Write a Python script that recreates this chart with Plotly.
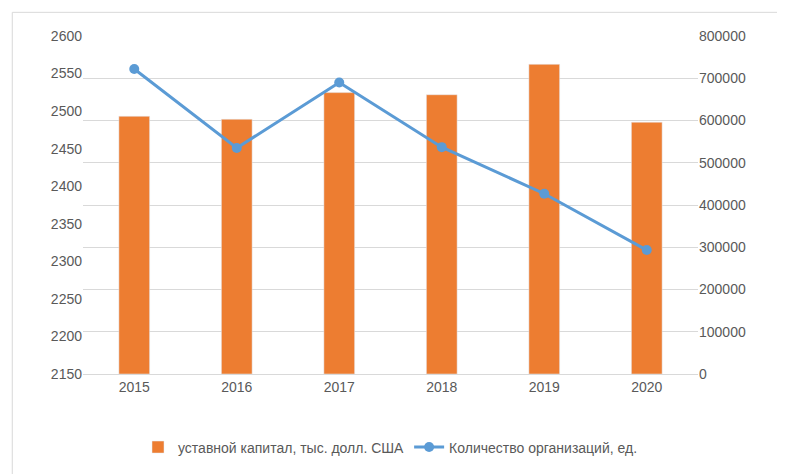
import plotly.graph_objects as go

years = ["2015", "2016", "2017", "2018", "2019", "2020"]
capital = [610000, 603000, 666000, 661000, 733000, 596000]
orgs = [2556, 2451, 2538, 2452, 2390, 2315]

fig = go.Figure()
fig.add_trace(go.Bar(x=years, y=capital, name="уставной капитал, тыс. долл. США",
                     marker_color="#ED7D31", width=0.3, yaxis="y"))
fig.add_trace(go.Scatter(x=years, y=orgs, name="Количество организаций, ед.",
                         mode="lines+markers", line=dict(color="#5B9BD5", width=3),
                         marker=dict(size=10, color="#5B9BD5"), yaxis="y2"))
fig.update_layout(
    width=785, height=474, paper_bgcolor="white", plot_bgcolor="white",
    margin=dict(l=75, r=95, t=28, b=108, autoexpand=False),
    font=dict(family="Liberation Sans", size=14, color="#595959"),
    xaxis=dict(showline=True, linecolor="#D9D9D9", ticks=""),
    yaxis=dict(range=[0, 800000], dtick=100000, side="right", gridcolor="#D9D9D9",
               zeroline=False, tickformat="d"),
    yaxis2=dict(range=[2150, 2600], dtick=50, overlaying="y", side="left",
                showgrid=False, zeroline=False),
    legend=dict(orientation="h", x=0.5, xanchor="center", y=-0.17, yanchor="top",
                traceorder="normal"),
    shapes=[dict(type="rect", xref="paper", yref="paper", x0=-0.115, x1=1.145,
                 y0=-0.31, y1=1.07, line=dict(color="#D9D9D9", width=1))],
)
fig.write_html("out.html")
